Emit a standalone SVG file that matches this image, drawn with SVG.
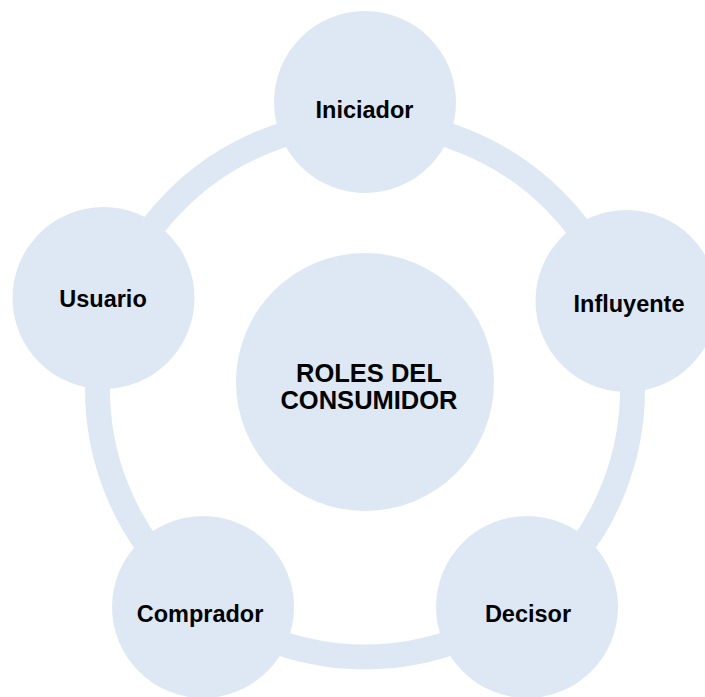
<svg xmlns="http://www.w3.org/2000/svg" width="705" height="697" viewBox="0 0 705 697">
<style>
.node{fill:#DEE8F4;}
.ring{fill:none;stroke:#DEE8F4;stroke-width:25;}
.lbl{font-family:"Liberation Sans",Arial,sans-serif;font-weight:bold;font-size:23.5px;fill:#000;text-anchor:middle;}
.ctr{font-family:"Liberation Sans",Arial,sans-serif;font-weight:bold;font-size:25.5px;fill:#000;text-anchor:middle;}
</style>
<rect width="705" height="697" fill="#fff"/>
<g id="connectors">
<circle class="ring" cx="365" cy="389.5" r="267.5"/>
</g>
<g id="center">
<circle class="node" cx="365" cy="382" r="129"/>
<text class="ctr" x="369" y="381.5">ROLES DEL</text>
<text class="ctr" x="369" y="409">CONSUMIDOR</text>
</g>
<g id="iniciador">
<circle class="node" cx="365" cy="102" r="91"/>
<text class="lbl" x="364.5" y="118">Iniciador</text>
</g>
<g id="influyente">
<circle class="node" cx="626.5" cy="301" r="91"/>
<text class="lbl" x="629" y="312">Influyente</text>
</g>
<g id="decisor">
<circle class="node" cx="527" cy="607" r="91"/>
<text class="lbl" x="528" y="622">Decisor</text>
</g>
<g id="comprador">
<circle class="node" cx="203" cy="607" r="91"/>
<text class="lbl" x="200" y="622">Comprador</text>
</g>
<g id="usuario">
<circle class="node" cx="103.5" cy="298" r="91"/>
<text class="lbl" x="103" y="307">Usuario</text>
</g>
</svg>
